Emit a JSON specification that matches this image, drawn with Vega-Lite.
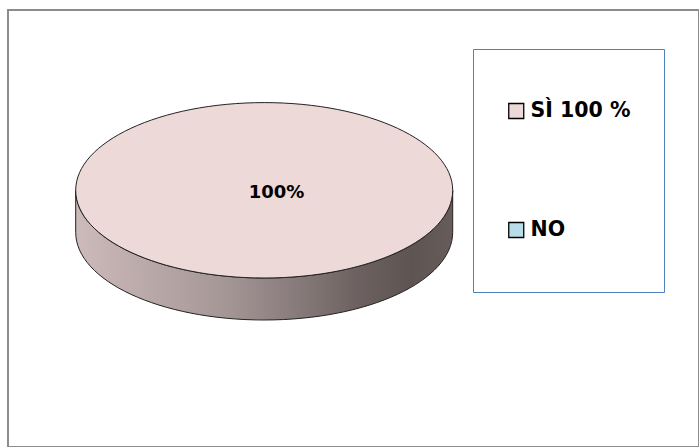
{
  "$schema": "https://vega.github.io/schema/vega-lite/v6.json",
  "autosize": "none",
  "width": 691,
  "height": 437,
  "padding": {"left": 8, "top": 10, "right": 0, "bottom": 0},
  "background": "white",
  "config": {
    "view": {"stroke": null},
    "font": "DejaVu Sans"
  },
  "data": {
    "values": [
      {"risposta": "SÌ 100 %", "quota": 1},
      {"risposta": "NO", "quota": 0}
    ]
  },
  "transform": [{"filter": "datum.quota > 0"}],
  "layer": [
    {
      "mark": {
        "type": "rect",
        "fill": null,
        "fillOpacity": 0,
        "stroke": "#8C8C8C",
        "strokeWidth": 2
      },
      "encoding": {}
    },
    {
      "mark": {
        "type": "point",
        "filled": true,
        "opacity": 1,
        "size": 4,
        "shape": "M-277.8,-38.2A188.5,87.7 0 0,0 99.2,-38.2L99.2,3.8A188.5,87.7 0 0,1 -277.8,3.8Z",
        "fill": {
          "gradient": "linear",
          "x1": 0, "y1": 0, "x2": 1, "y2": 0,
          "stops": [
            {"offset": 0, "color": "#CDBABA"},
            {"offset": 0.41, "color": "#A49595"},
            {"offset": 0.59, "color": "#877A7A"},
            {"offset": 0.75, "color": "#6C6160"},
            {"offset": 0.89, "color": "#5E5452"},
            {"offset": 1, "color": "#665C5A"}
          ]
        },
        "stroke": "#222222",
        "strokeWidth": 1
      },
      "encoding": {}
    },
    {
      "mark": {
        "type": "point",
        "filled": true,
        "opacity": 1,
        "size": 4,
        "shape": "M-277.8,-38.2A188.5,87.7 0 0,1 99.2,-38.2A188.5,87.7 0 0,1 -277.8,-38.2Z",
        "stroke": "#222222",
        "strokeWidth": 1
      },
      "encoding": {
        "color": {
          "field": "risposta",
          "type": "nominal",
          "scale": {
            "domain": ["SÌ 100 %", "NO"],
            "range": ["#EDD9D8", "#B7DDE8"]
          },
          "legend": {
            "title": null,
            "orient": "none",
            "legendX": 465,
            "legendY": 39,
            "padding": 33,
            "clipHeight": 58,
            "rowPadding": 61,
            "strokeColor": "#4F81BD",
            "fillColor": "white",
            "symbolType": "square",
            "symbolSize": 225,
            "symbolStrokeColor": "black",
            "symbolStrokeWidth": 1.3,
            "symbolOpacity": 1,
            "labelFont": "DejaVu Sans",
            "labelFontWeight": "bold",
            "labelFontSize": 20.5,
            "labelColor": "black",
            "labelOffset": 4,
            "labelLimit": 300
          }
        }
      }
    },
    {
      "mark": {
        "type": "text",
        "font": "DejaVu Sans",
        "fontWeight": "bold",
        "fontSize": 18,
        "color": "black",
        "align": "center",
        "baseline": "middle",
        "dx": -77,
        "dy": -36
      },
      "encoding": {
        "text": {"field": "quota", "type": "quantitative", "format": ".0%"}
      }
    }
  ]
}
